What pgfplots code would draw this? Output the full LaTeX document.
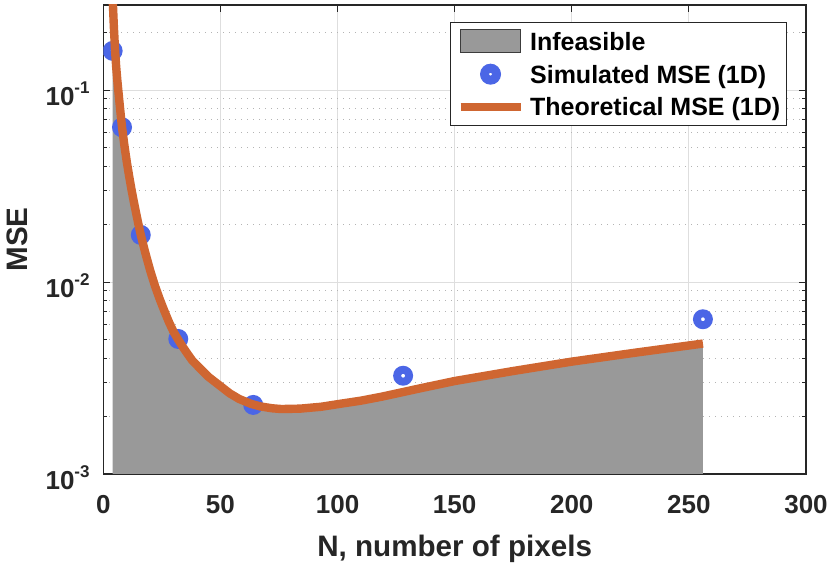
\documentclass[border=0pt]{standalone}
\usepackage{fontspec}
\setmainfont{Liberation Sans}
\usepackage{pgfplots}
\pgfplotsset{compat=1.18}
\usepackage{pgfplotstable}
\definecolor{axgray}{RGB}{38,38,38}
\definecolor{simblue}{RGB}{75,102,230}
\definecolor{theoorange}{RGB}{207,102,49}
\definecolor{fillgray}{RGB}{153,153,153}
\definecolor{majgrid}{RGB}{222,222,222}
\definecolor{mingrid}{RGB}{180,180,180}
\newcommand\tenp[1]{10\raisebox{5.85pt}{\fontsize{8.5}{8.5}\selectfont\bfseries #1}}
\pgfdeclareplotmark{ring}{\pgfpathcircle{\pgfpointorigin}{5pt}\pgfpathcircle{\pgfpointorigin}{1pt}\pgfseteorule\pgfusepathqfill}

\pgfplotstableread{
N mse
4 0.30
4.5 0.215
5 0.163
5.5 0.132
6 0.112
6.5 0.097
7 0.084
7.5 0.073
8 0.064
9 0.0515
10 0.0425
11 0.0358
12 0.0305
13 0.0263
14 0.0229
15 0.0200
16 0.0176
18 0.0141
20 0.0115
22 0.0096
24 0.0082
26 0.0071
28 0.0062
30 0.0055
32 0.0050
34 0.00458
36 0.00422
38 0.00390
41 0.00358
45 0.00320
50 0.00287
54 0.00263
58 0.00246
63 0.00232
67 0.00225
72 0.00220
76 0.00218
84 0.00219
93 0.00224
101 0.00232
110 0.00241
119 0.00253
135 0.00279
150 0.00305
175 0.00344
200 0.00385
228 0.00430
256 0.00478
}\theory

\pgfplotstableread{
N mse
4 0.001
4 0.30
4.5 0.215
5 0.163
5.5 0.132
6 0.112
6.5 0.097
7 0.084
7.5 0.073
8 0.064
9 0.0515
10 0.0425
11 0.0358
12 0.0305
13 0.0263
14 0.0229
15 0.0200
16 0.0176
18 0.0141
20 0.0115
22 0.0096
24 0.0082
26 0.0071
28 0.0062
30 0.0055
32 0.0050
34 0.00458
36 0.00422
38 0.00390
41 0.00358
45 0.00320
50 0.00287
54 0.00263
58 0.00246
63 0.00232
67 0.00225
72 0.00220
76 0.00218
84 0.00219
93 0.00224
101 0.00232
110 0.00241
119 0.00253
135 0.00279
150 0.00305
175 0.00344
200 0.00385
228 0.00430
256 0.00478
256 0.001
}\fillarea

\pgfplotstableread{
N mse
4 0.160
8 0.064
16 0.0176
32 0.00505
64 0.00229
128 0.00325
256 0.0064
}\simulated

\pgfplotsset{
  layers/mylayers/.define layer set={
    axis background,axis grid,pre main,main,axis ticks,axis lines,axis tick labels,axis descriptions,axis foreground
  }{},
}

\begin{document}
\begin{tikzpicture}
\begin{axis}[
  set layers=mylayers,
  clip marker paths=true,
  at={(0pt,0pt)}, anchor=south west,
  scale only axis, width=351.35pt, height=234.5pt,
  xmin=0, xmax=300, ymode=log, ymin=0.001, ymax=0.2775,
  xtick={0,50,100,150,200,250,300},
  ytick={0.001,0.01,0.1},
  yticklabels={\tenp{-3},\tenp{-2},\tenp{-1}},
  minor ytick={0.002,0.003,0.004,0.005,0.006,0.007,0.008,0.009,0.02,0.03,0.04,0.05,0.06,0.07,0.08,0.09,0.2},
  /pgf/number format/assume math mode=true,
  xmajorgrids, ymajorgrids, yminorgrids,
  major grid style={majgrid, line width=0.5pt},
  minor grid style={mingrid, line width=0.5pt, dash pattern=on 0.5pt off 2.5pt},
  tick align=inside, major tick length=3.5pt, minor tick length=2pt,
  every tick/.style={axgray, line width=0.5pt},
  axis line style={axgray, line width=0.6pt},
  tick label style={font=\fontsize{13}{13}\selectfont\bfseries, text=axgray, inner sep=0pt},
  xticklabel style={yshift=-10.5pt},
  yticklabel style={xshift=-6.65pt, yshift=-2pt},
  xlabel={N, number of pixels}, ylabel={MSE},
  label style={font=\fontsize{14.8}{14.8}\selectfont\bfseries, text=axgray, inner sep=0pt},
  xlabel style={at={(axis description cs:0.5,-0.1301)}, anchor=north},
  ylabel style={at={(axis description cs:-0.1221,0.5)}, anchor=center},
  legend cell align=left,
  legend style={at={(0.9725,0.9644)}, anchor=north east, draw=axgray, line width=0.5pt, fill=white,
    font=\fontsize{12.5}{12.5}\selectfont\bfseries, text=black,
    inner xsep=3pt, inner ysep=3.5pt, row sep=4.75pt, column sep=2.8pt,
    nodes={inner xsep=0pt, inner ysep=0pt, text height=10.35pt, text depth=1.15pt}},
]
\addplot[fill=fillgray, draw=none,
  legend image code/.code={\draw[fill=fillgray, draw=axgray!90, line width=0.5pt] (0pt,-5.75pt) rectangle (30pt,5.75pt);}]
  table[x=N, y=mse] {\fillarea};
\addlegendentry{Infeasible}
\addplot[only marks, mark=ring, simblue,
  legend image code/.code={\path[fill=simblue, even odd rule] (15pt,0pt) circle[radius=5pt] (15pt,0pt) circle[radius=1pt];}]
  table[x=N, y=mse] {\simulated};
\addlegendentry{Simulated MSE (1D)}
\addplot[theoorange, line width=4.2pt, line join=round,
  legend image code/.code={\draw[theoorange, line width=4pt] (0pt,0pt) -- (30pt,0pt);}]
  table[x=N, y=mse] {\theory};
\addlegendentry{Theoretical MSE (1D)}
\end{axis}
\pgfresetboundingbox
\path (-51.65pt,-46pt) rectangle (363.35pt,237pt);
\end{tikzpicture}
\end{document}
